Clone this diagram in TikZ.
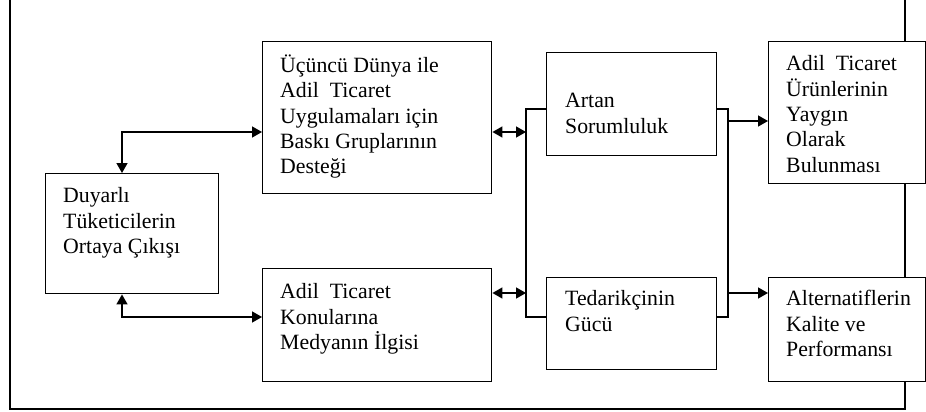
\documentclass[tikz,border=0pt]{standalone}
\usepackage{fontspec}
\setmainfont{Liberation Serif}
\usetikzlibrary{arrows.meta}
\tikzset{
  box/.style={draw, fill=white, line width=1.4pt, inner sep=0pt, anchor=north west},
  lbl/.style={anchor=north west, inner sep=0pt, align=left,
    font=\fontsize{21.8}{25.3}\selectfont},
  link/.style={line width=1.4pt},
  arr/.style={line width=1.4pt, -{Triangle[length=10pt,width=11pt]}},
  darr/.style={line width=1.4pt, {Triangle[length=10pt,width=11pt]}-{Triangle[length=10pt,width=11pt]}},
}
\begin{document}
\begin{tikzpicture}[x=1pt,y=-1pt]
\clip (0,0) rectangle (926,412);
\fill[white] (0,0) rectangle (926,412);
% outer frame (top edge outside the picture)
\draw[line width=1.4pt] (10,-5) -- (10,409) -- (905,409) -- (905,-5);
% boxes
\node[box, minimum width=173pt, minimum height=120pt] (duy) at (45,173) {};
\node[box, minimum width=229pt, minimum height=152pt] (uc) at (262,41) {};
\node[box, minimum width=229pt, minimum height=113pt] (ad) at (262,268) {};
\node[box, minimum width=170pt, minimum height=103pt] (art) at (546,52) {};
\node[box, minimum width=170pt, minimum height=92pt] (ted) at (546,277) {};
\node[box, minimum width=156.5pt, minimum height=142pt] (urun) at (768,41) {};
\node[box, minimum width=156.5pt, minimum height=104pt] (alt) at (768,277) {};
% texts
\node[lbl] (tduy) at ([shift={(18,12)}]duy.north west) {\strut Duyarlı\\Tüketicilerin\\Ortaya Çıkışı};
\node[lbl] (tuc) at ([shift={(18,13.5)}]uc.north west) {\strut Üçüncü Dünya ile\\Adil~ Ticaret\\Uygulamaları için\\Baskı Gruplarının\\Desteği};
\node[lbl] (tad) at ([shift={(18,13)}]ad.north west) {\strut Adil~ Ticaret\\Konularına\\Medyanın İlgisi};
\node[lbl] (tart) at ([shift={(19,38)}]art.north west) {\strut Artan\\Sorumluluk};
\node[lbl] (tted) at ([shift={(19,11)}]ted.north west) {\strut Tedarikçinin\\Gücü};
\node[lbl] (turun) at ([shift={(18,12)}]urun.north west) {\strut Adil~ Ticaret\\Ürünlerinin\\Yaygın\\Olarak\\Bulunması};
\node[lbl] (talt) at ([shift={(18,11)}]alt.north west) {\strut Alternatiflerin\\Kalite ve\\Performansı};
% connector corners
\coordinate (c1) at (122,132);
\coordinate (c2) at (122,317);
\coordinate (bl1) at (526,109);
\coordinate (bl2) at (526,317);
\coordinate (m1) at (526,132);
\coordinate (m2) at (526,293);
\coordinate (br1) at (728,109);
\coordinate (br2) at (728,317);
\coordinate (n1) at (728,121);
\coordinate (n2) at (728,293);
% connectors
\draw[darr] (c1 |- duy.north) -- (c1) -- (c1 -| uc.west);
\draw[darr] (c2 |- duy.south) -- (c2) -- (c2 -| ad.west);
\draw[link] (bl1 -| art.west) -- (bl1) -- (bl2) -- (bl2 -| ted.west);
\draw[link] (br1 -| art.east) -- (br1) -- (br2) -- (br2 -| ted.east);
\draw[darr] (m1 -| uc.east) -- (m1);
\draw[darr] (m2 -| ad.east) -- (m2);
\draw[arr] (n1) -- (n1 -| urun.west);
\draw[arr] (n2) -- (n2 -| alt.west);
\end{tikzpicture}
\end{document}
